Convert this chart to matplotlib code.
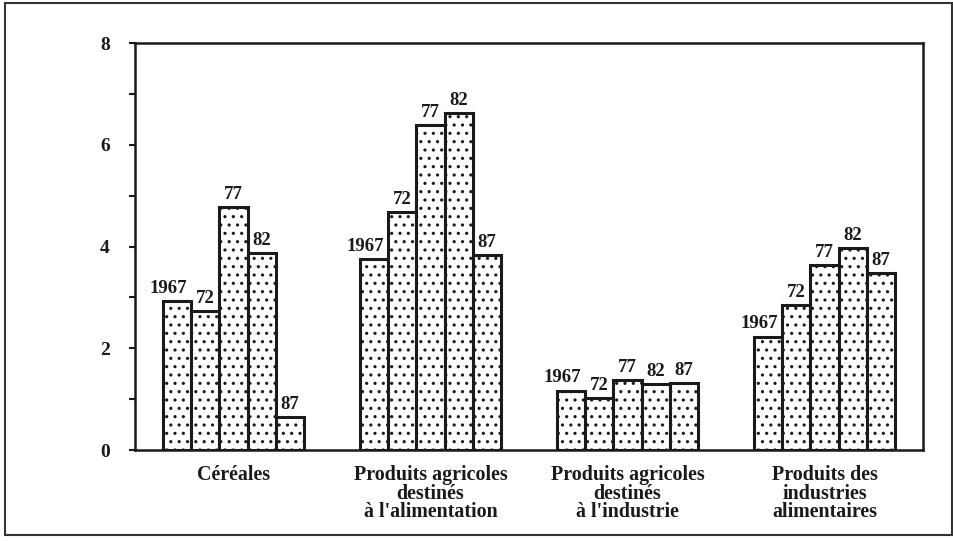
import numpy as np
import matplotlib
matplotlib.use("Agg")
import matplotlib.pyplot as plt
from matplotlib.patches import Rectangle

# data
categories = ["Céréales",
              "Produits agricoles\ndestinés\nà l'alimentation",
              "Produits agricoles\ndestinés\nà l'industrie",
              "Produits des\nindustries\nalimentaires"]
years = ["1967", "72", "77", "82", "87"]
cereales = [2.93, 2.74, 4.78, 3.87, 0.65]
agri_alim = [3.75, 4.68, 6.38, 6.63, 3.83]
agri_indus = [1.17, 1.02, 1.38, 1.30, 1.32]
ind_alim = [2.23, 2.85, 3.63, 3.97, 3.48]
series = [cereales, agri_alim, agri_indus, ind_alim]

plt.rcParams['font.family'] = ['Liberation Serif', 'DejaVu Serif']
plt.rcParams['font.weight'] = 'bold'
plt.rcParams['hatch.linewidth'] = 1.1
plt.rcParams['hatch.color'] = '#222222'

fig = plt.figure(figsize=(9.54, 5.41), dpi=100)
ax = fig.add_axes([0.1415, 0.168, 0.826, 0.7525])

# outer frame
fig.patches.append(Rectangle((5/954, 6/541), 947/954, 532/541, transform=fig.transFigure,
                             fill=False, edgecolor='#333333', linewidth=1.5))

w = 0.144
x = np.arange(len(categories))
for i, vals in enumerate(series):
    for j, v in enumerate(vals):
        xp = x[i] + (j - 2) * w
        ax.bar(xp, v, width=w, color='white', edgecolor='#1a1a1a', linewidth=2.2,
               hatch='..', zorder=2)
        # the "1967" labels sit a bit to the left of their bar
        dx = -6 if j == 0 else 0
        ax.annotate(years[j], (xp, v), xytext=(dx, 3), textcoords='offset points',
                    ha='center', va='bottom', fontsize=13.5, fontweight='bold',
                    color='#1a1a1a')

ax.set_xlim(-0.5, 3.5)
ax.set_ylim(0, 8)
ax.set_yticks([0, 2, 4, 6, 8])
ax.set_yticks([1, 3, 5, 7], minor=True)
ax.tick_params(axis='y', which='both', length=4, width=1.5, direction='out', pad=14,
               labelsize=14, colors='#1a1a1a')
ax.set_xticks(x)
ax.set_xticklabels(categories, fontsize=14.4, fontweight='bold', linespacing=0.9,
                   color='#1a1a1a')
ax.tick_params(axis='x', length=0, pad=11)
for s in ax.spines.values():
    s.set_linewidth(1.8)
    s.set_color('#1a1a1a')

fig.savefig('out.png', dpi=100)
